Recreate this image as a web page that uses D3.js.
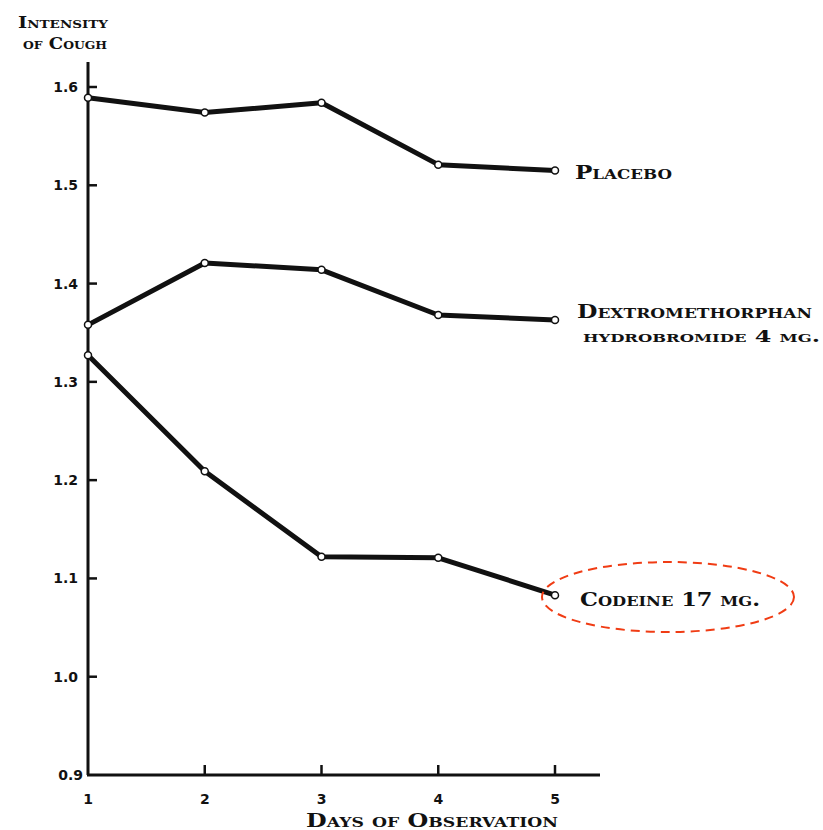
<!DOCTYPE html>
<html>
<head>
<meta charset="utf-8">
<script src="https://cdn.jsdelivr.net/npm/d3@7/dist/d3.min.js"></script>
<style>
  body { margin: 0; background: #fff; }
  text { fill: #111; }
  .serif { font-family: "DejaVu Serif", serif; font-weight: bold; font-variant: small-caps; }
</style>
</head>
<body>
<div id="viz"></div>
<script>
// days on the x axis
const days = [1, 2, 3, 4, 5];
const yTicks = [0.9, 1.0, 1.1, 1.2, 1.3, 1.4, 1.5, 1.6];

const placebo = [1.589, 1.574, 1.584, 1.521, 1.515];
const dextro = [1.358, 1.421, 1.414, 1.368, 1.363];
const codeine = [1.327, 1.209, 1.122, 1.121, 1.083];

const seriesNames = ['Placebo', 'Dextromethorphan', 'Codeine 17 mg.'];

const width = 823, height = 830;

const svg = d3.select('#viz').append('svg')
  .attr('width', width)
  .attr('height', height);

const x = d3.scaleLinear().domain([1, 5]).range([88, 555]);
const y = d3.scaleLinear().domain([0.9, 1.6]).range([775, 87]);

// y axis
svg.append('line')
  .attr('x1', x(1)).attr('x2', x(1))
  .attr('y1', y(0.9)).attr('y2', 62)
  .attr('stroke', '#111').attr('stroke-width', 3);

// x axis
svg.append('line')
  .attr('x1', x(1) - 1).attr('x2', 600)
  .attr('y1', y(0.9)).attr('y2', y(0.9))
  .attr('stroke', '#111').attr('stroke-width', 3);

const yAx = svg.append('g');
yAx.selectAll('line').data(yTicks.slice(1)).join('line')
  .attr('x1', x(1)).attr('x2', x(1) + 9)
  .attr('y1', d => y(d)).attr('y2', d => y(d))
  .attr('stroke', '#111').attr('stroke-width', 2.5);
yAx.selectAll('text').data(yTicks).join('text')
  .attr('x', d => d === 0.9 ? x(1) - 5 : x(1) - 10)
  .attr('y', d => y(d) + 5)
  .attr('text-anchor', 'end')
  .style('font-family', '"DejaVu Sans", sans-serif')
  .style('font-weight', 'bold')
  .style('font-size', '14px')
  .text(d => d.toFixed(1));

const xAx = svg.append('g');
xAx.selectAll('line').data(days.slice(1)).join('line')
  .attr('x1', d => x(d)).attr('x2', d => x(d))
  .attr('y1', y(0.9)).attr('y2', y(0.9) - 10)
  .attr('stroke', '#111').attr('stroke-width', 2.5);
xAx.selectAll('text').data(days).join('text')
  .attr('x', d => x(d))
  .attr('y', 804)
  .attr('text-anchor', 'middle')
  .style('font-family', '"DejaVu Sans", sans-serif')
  .style('font-weight', 'bold')
  .style('font-size', '14px')
  .text(d => d);

// series lines
const line = d3.line()
  .x((d, i) => x(days[i]))
  .y(d => y(d));

[placebo, dextro, codeine].forEach(vals => {
  svg.append('path')
    .datum(vals)
    .attr('d', line)
    .attr('fill', 'none')
    .attr('stroke', '#111')
    .attr('stroke-width', 5)
    .attr('stroke-linejoin', 'round');
  svg.selectAll(null).data(vals).join('circle')
    .attr('cx', (d, i) => x(days[i]))
    .attr('cy', d => y(d))
    .attr('r', 3.5)
    .attr('fill', '#fff')
    .attr('stroke', '#111')
    .attr('stroke-width', 1.5);
});

// labels, stretched to the width of the old wide type
function label(txt, lx, ly, size, len, anchor) {
  svg.append('text')
    .attr('class', 'serif')
    .attr('x', lx).attr('y', ly)
    .attr('text-anchor', anchor || 'start')
    .attr('textLength', len)
    .attr('lengthAdjust', 'spacingAndGlyphs')
    .style('font-size', size + 'px')
    .text(txt);
}
label(seriesNames[0], 575, 179, 18, 97);
label(seriesNames[1], 577, 318, 18, 235);
label('hydrobromide 4 mg.', 583, 342, 16, 237);
label(seriesNames[2], 580, 606, 18, 180);

label('Intensity', 18, 28, 16, 90);
label('of Cough', 23, 49, 16, 84);
label('Days of Observation', 306, 827, 18, 252);

// red dashed ellipse around codeine label
svg.append('ellipse')
  .attr('cx', 668).attr('cy', 597)
  .attr('rx', 126).attr('ry', 35)
  .attr('fill', 'none')
  .attr('stroke', '#f03c14')
  .attr('stroke-width', 2)
  .attr('stroke-dasharray', '9,6');
</script>
</body>
</html>
